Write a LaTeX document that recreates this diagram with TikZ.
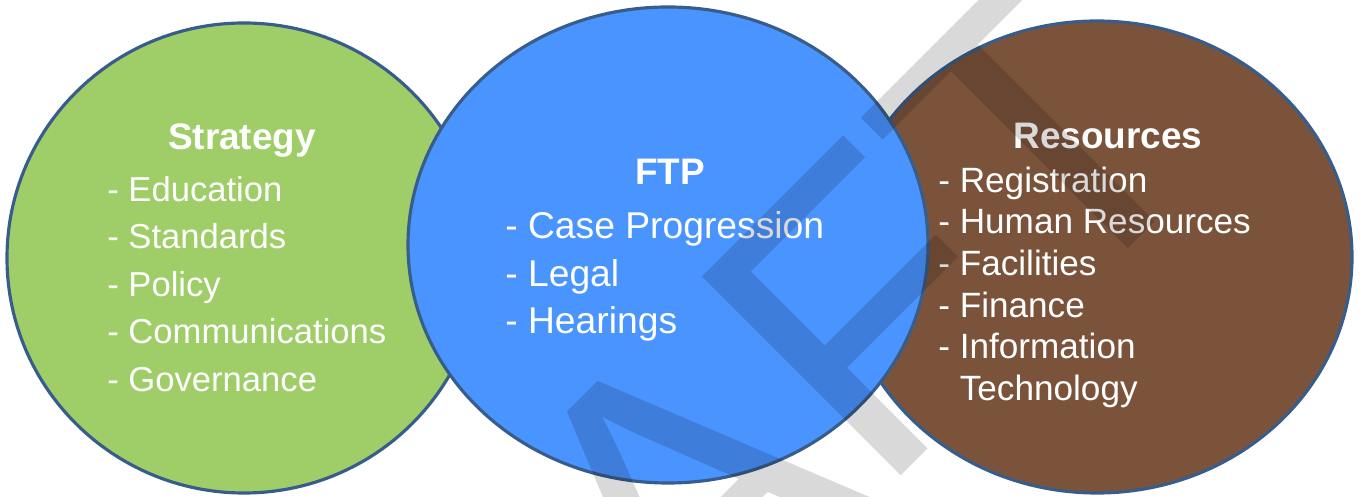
\documentclass[tikz,border=0pt]{standalone}
\usepackage{fontspec}
\setmainfont{Liberation Sans}
\definecolor{stratgreen}{HTML}{9FCE68}
\definecolor{ftpblue}{HTML}{4A94FF}
\definecolor{resbrown}{HTML}{7B533A}
\definecolor{rimblue}{HTML}{385D8A}

\begin{document}
\begin{tikzpicture}
    \pgfmathsetmacro{\picwidth}{27.26}
    \pgfmathsetmacro{\picheight}{9.94}
    \providecommand{\headfontsize}{\fontsize{21}{25}\selectfont\bfseries}
    \providecommand{\listfontsize}{\fontsize{19.7}{27}\selectfont}
    \providecommand{\widefontsize}{\fontsize{21.2}{27.2}\selectfont}
    \providecommand{\tightfontsize}{\fontsize{20}{23.7}\selectfont}
    \tikzset{
        blob/.style={line width=1.8pt,draw=rimblue},
        head/.style={text=white,inner sep=0,anchor=base,font=\headfontsize},
        items/.style={text=white,inner sep=0,below right,align=left}
    }
    \useasboundingbox (0,0) rectangle (\picwidth,\picheight);
    \clip (0,0) rectangle (\picwidth,\picheight);
    % the three areas, middle one drawn last so it sits on top
    \draw[blob,fill=stratgreen] (4.88,4.78) ellipse (4.74 and 4.70);
    \draw[blob,fill=resbrown] (21.94,4.80) ellipse (5.10 and 4.72);
    \draw[blob,fill=ftpblue] (13.36,5.04) ellipse (5.20 and 4.76);
    % left
    \node[head] (strat) at (4.84,6.94) {Strategy};
    \node[items,font=\listfontsize] (stratlist) at (2.14,6.42)
        {- Education\\- Standards\\- Policy\\- Communications\\- Governance};
    % middle
    \node[head] (ftp) at (13.40,6.24) {FTP};
    \node[items,font=\widefontsize] (ftplist) at (10.10,5.72)
        {- Case Progression\\- Legal\\- Hearings};
    % right
    \node[head] (res) at (22.16,6.96) {Resources};
    \node[items,font=\tightfontsize] (reslist) at (18.76,6.61)
        {- Registration\\- Human Resources\\- Facilities\\- Finance\\- Information\\\phantom{- }Technology};
    % stamp across everything
    \node[rotate=45,anchor=base west,inner sep=0,text=black,text opacity=0.15,
        font=\fontsize{232.6}{240}\selectfont] (draft) at (5.34,-12.26) {DRAFT};
\end{tikzpicture}
\end{document}
